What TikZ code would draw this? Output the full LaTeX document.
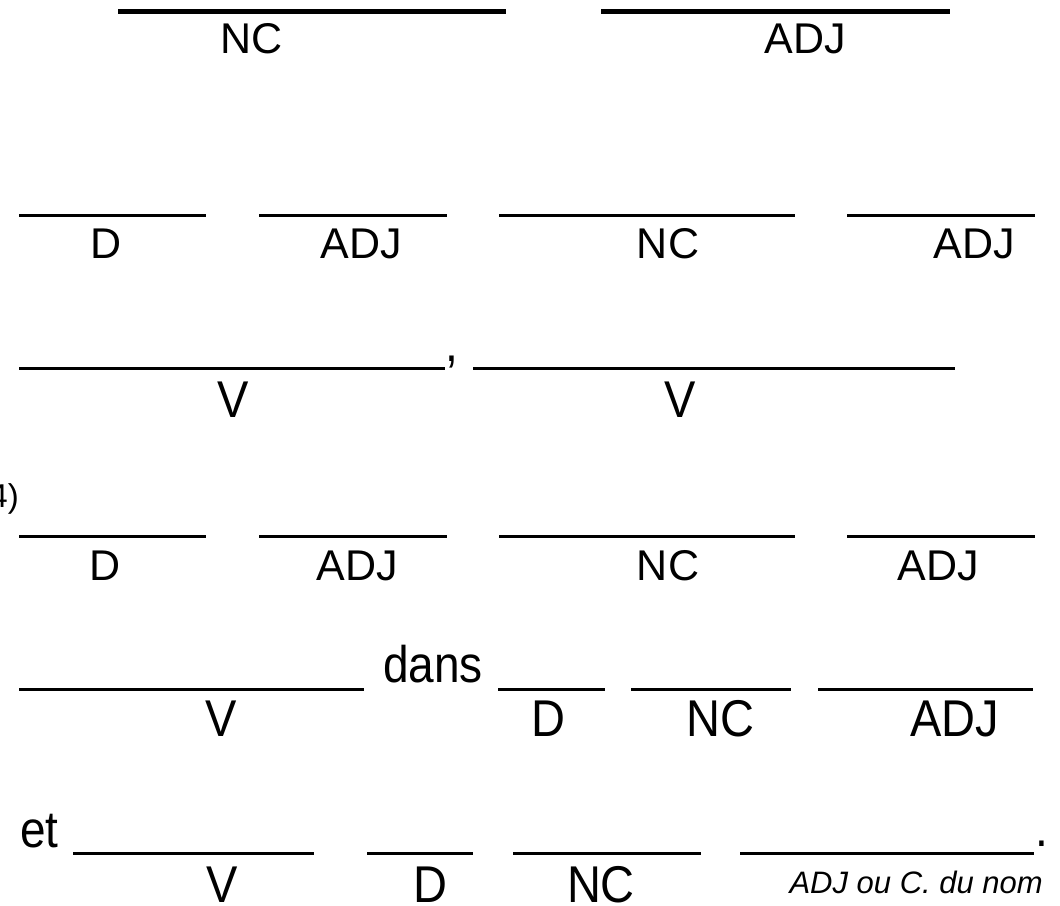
\documentclass[tikz,border=0pt]{standalone}
\usepackage{fontspec}
\setmainfont{Liberation Sans}
\usetikzlibrary{positioning}

\tikzset{
  blank/.style={line width=3pt},
  topblank/.style={line width=5pt},
  cat/.style={anchor=base, inner sep=0pt, font=\fontsize{43}{50}\selectfont},
  bigcat/.style={anchor=base, inner sep=0pt, yscale=1.1, font=\fontsize{47}{54}\selectfont},
  word/.style={anchor=base west, inner sep=0pt, yscale=1.12, font=\fontsize{46}{54}\selectfont},
}

\begin{document}
\begin{tikzpicture}[x=1pt,y=-1pt]
  \useasboundingbox (0,0) rectangle (1060,905);

  \draw[topblank] (118,11.7) -- (506,11.7);
  \draw[topblank] (601,11.7) -- (950,11.7);
  \node[cat] (nca) at (252,53) {NC};
  \node[cat] (adja) at (805,53) {ADJ};

  \draw[blank] (19,215) -- (206,215);
  \draw[blank] (259,215) -- (447,215);
  \draw[blank] (499,215) -- (795,215);
  \draw[blank] (847,215) -- (1035,215);
  \node[cat] (db) at (106,258) {D};
  \node[cat] (adjb) at (361,258) {ADJ};
  \node[cat] (ncb) at (668,258) {NC};
  \node[cat] (adjbb) at (974,258) {ADJ};

  \draw[blank] (19,368) -- (445,368);
  \node[word] (comma) at (445,361) {,};
  \draw[blank] (473,368) -- (955,368);
  \node[bigcat] (vc) at (233,417) {V};
  \node[bigcat] (vcc) at (680,417) {V};

  \node[anchor=base east, inner sep=0pt, font=\fontsize{33}{38}\selectfont] (num) at (19,507) {4)};
  \draw[blank] (19,536) -- (206,536);
  \draw[blank] (259,536) -- (447,536);
  \draw[blank] (499,536) -- (795,536);
  \draw[blank] (847,536) -- (1035,536);
  \node[cat] (dd) at (105,580) {D};
  \node[cat] (adjd) at (357,580) {ADJ};
  \node[cat] (ncd) at (668,580) {NC};
  \node[cat] (adjdd) at (938,580) {ADJ};

  \draw[blank] (19,689) -- (364,689);
  \node[word] (dans) at (383,682) {dans};
  \draw[blank] (498,689) -- (605,689);
  \draw[blank] (631,689) -- (791,689);
  \draw[blank] (818,689) -- (1033,689);
  \node[bigcat] (ve) at (221,736) {V};
  \node[bigcat] (de) at (548,736) {D};
  \node[bigcat] (nce) at (720,736) {NC};
  \node[bigcat] (adje) at (955,736) {ADJ};

  \node[word] (et) at (20,847) {et};
  \draw[blank] (73,853) -- (314,853);
  \draw[blank] (367,853) -- (473,853);
  \draw[blank] (513,853) -- (701,853);
  \draw[blank] (740,853) -- (1034,853);
  \node[word] (point) at (1035,846) {.};
  \node[bigcat] (vf) at (222,902) {V};
  \node[bigcat] (df) at (430,902) {D};
  \node[bigcat] (ncf) at (601,902) {NC};
  \node[anchor=base east, inner sep=0pt, font=\fontsize{31}{36}\selectfont\itshape] (note) at (1043,893) {ADJ ou C. du nom};
\end{tikzpicture}
\end{document}
